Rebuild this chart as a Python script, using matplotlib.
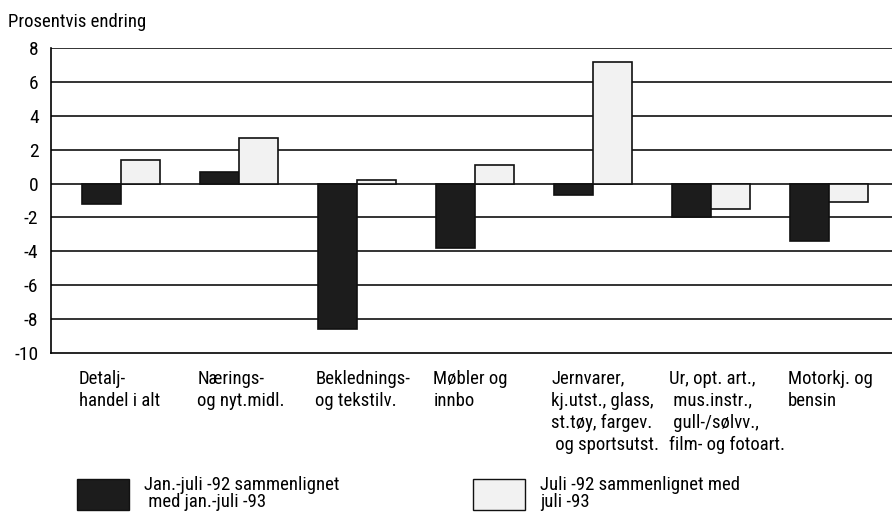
import matplotlib
matplotlib.use("Agg")
import matplotlib.pyplot as plt
import numpy as np
from matplotlib.patches import Patch

categories = [
    "Detalj-\nhandel i alt",
    "Nærings-\nog nyt.midl.",
    "Beklednings-\nog tekstilv.",
    "Møbler og\ninnbo",
    "Jernvarer,\nkj.utst., glass,\nst.tøy, fargev.\n og sportsutst.",
    "Ur, opt. art.,\n mus.instr.,\n gull-/sølvv.,\nfilm- og fotoart.",
    "Motorkj. og\nbensin",
]
jan_juli = [-1.2, 0.7, -8.6, -3.8, -0.7, -2.0, -3.4]
juli = [1.4, 2.7, 0.2, 1.1, 7.2, -1.5, -1.1]
yticks = [-10, -8, -6, -4, -2, 0, 2, 4, 6, 8]
label_dark = "Jan.-juli -92 sammenlignet\n med jan.-juli -93"
label_light = "Juli -92 sammenlignet med\njuli -93"
ylabel = "Prosentvis endring"

plt.rcParams['font.family'] = ['Roboto Condensed', 'Liberation Sans', 'DejaVu Sans']
plt.rcParams['font.size'] = 13

W, H = 892, 521
fig = plt.figure(figsize=(W / 100, H / 100), dpi=100)
ax = fig.add_axes([51 / W, 1 - 353 / H, 1 - 51 / W, (353 - 48) / H])

x = np.arange(len(categories))
bw = 0.33
dark_col = "#1c1c1c"
light_col = "#f2f2f2"
ax.bar(x - bw / 2, jan_juli, bw, color=dark_col, edgecolor="#111111", linewidth=1.2, zorder=3)
ax.bar(x + bw / 2, juli, bw, color=light_col, edgecolor="#111111", linewidth=1.2, zorder=3)

ax.set_ylim(-10, 8)
ax.set_xlim(-0.593, 6.53)
ax.set_yticks(yticks)
ax.set_yticklabels([str(v) for v in yticks])
ax.tick_params(axis='y', length=0, pad=9, labelsize=14)
ax.tick_params(axis='x', length=0, labelbottom=False)
for yv in yticks:
    if yv > -10:
        ax.axhline(yv, color="#111111", linewidth=1.2, zorder=1)
ax.spines['top'].set_visible(False)
ax.spines['right'].set_visible(False)
ax.spines['left'].set_linewidth(1.2)
ax.spines['bottom'].set_linewidth(1.2)

for xi, lab in zip(x, categories):
    ax.annotate(lab, xy=(xi - bw - 0.025, 0), xycoords=('data', 'axes fraction'),
                xytext=(0, -12), textcoords='offset points', ha='left', va='top',
                fontsize=13.5, linespacing=1.28)

fig.text(8 / W, 1 - 22 / H, ylabel, ha='left', va='center', fontsize=13.5)

fs = 13.5
for col, edge, lab, (lx, ly) in [(dark_col, "#111111", label_dark, (77, 476)),
                                  (light_col, "#111111", label_light, (473, 476))]:
    leg = fig.legend([Patch(facecolor=col, edgecolor=edge, linewidth=1.0)], [lab],
                     loc='upper left', bbox_to_anchor=(lx / W, 1 - ly / H),
                     frameon=False, handlelength=2.75, handleheight=2.15,
                     handletextpad=0.85, fontsize=fs, borderaxespad=0, borderpad=0)
    for t in leg.get_texts():
        t.set_linespacing(0.95)

fig.savefig("out.png", dpi=100)
